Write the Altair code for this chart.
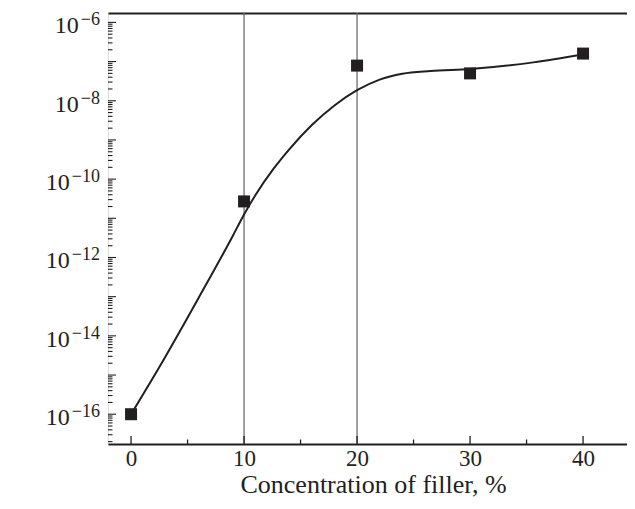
import altair as alt
import pandas as pd

# ---- data ----
conc = [0, 10, 20, 30, 40]                                   # filler concentration, %
cond = [1.0e-16, 2.7e-11, 7.9e-8, 5.0e-8, 1.6e-7]            # conductivity, S/cm

# fitted curve (x in %, log10 of conductivity)
curve_x = [0, 3, 6, 9, 10, 11, 12.6, 14, 16, 18, 20, 22, 24, 26.5, 30, 35.6, 40]
curve_log = [-16.0, -14.55, -13.02, -11.45, -10.9, -10.41, -9.74, -9.24, -8.62,
             -8.12, -7.73, -7.46, -7.31, -7.24, -7.19, -7.02, -6.82]

guide_x = [10, 20]                      # thin vertical guide lines
x_major = [0, 10, 20, 30, 40]
x_minor = [5, 15, 25, 35]
y_label_exps = [-6, -8, -10, -12, -14, -16]

# ---- layout ----
W, H = 519, 431
XDOM = [-2.04, -2.04 + W / 11.3]
YDOM = [10 ** -16.76, 10 ** -5.76]
INK = "#231f20"
SERIF = "'Liberation Serif', 'Times New Roman', Times, 'DejaVu Serif', serif"

xscale = alt.Scale(domain=XDOM, nice=False, zero=False)
yscale = alt.Scale(type="log", domain=YDOM, nice=False)

pts = pd.DataFrame({"x": conc, "y": cond})
curve = pd.DataFrame({"x": curve_x, "y": [10 ** v for v in curve_log]})
guides = pd.DataFrame({"x": guide_x})

y_major = [10.0 ** e for e in range(-17, -5) if YDOM[0] <= 10.0 ** e <= YDOM[1]]
y_minor = [m * 10.0 ** e for e in range(-18, -5) for m in range(2, 10)
           if YDOM[0] <= m * 10.0 ** e <= YDOM[1]]

ylab = pd.DataFrame({
    "v": [10.0 ** e for e in y_label_exps],
    "d": [str(abs(e)) for e in y_label_exps],
    "e": ["\u2212" + str(abs(e)) for e in y_label_exps],
})

# gray guide rules carry the top frame line
guide_layer = alt.Chart(guides).mark_rule(color="#6d6e71", strokeWidth=1.3).encode(
    x=alt.X("x:Q", scale=xscale,
            axis=alt.Axis(orient="top", labels=False, ticks=False, domain=True,
                          title=None, grid=False, domainWidth=2, domainColor=INK))
)

curve_layer = alt.Chart(curve).mark_line(
    color=INK, strokeWidth=2, interpolate="monotone"
).encode(
    x=alt.X("x:Q", scale=xscale,
            axis=alt.Axis(values=x_major, labels=True, ticks=True, tickSize=0,
                          tickWidth=0, domain=True, domainWidth=2, domainColor=INK,
                          grid=False, labelFont=SERIF, labelFontSize=23,
                          labelColor=INK, labelPadding=3, labelAngle=0,
                          title="Concentration of filler, %", titleFont=SERIF,
                          titleFontSize=26, titleFontWeight="normal",
                          titleColor=INK, titleBaseline="alphabetic",
                          titleAlign="center", titleX=265, titleY=48)),
    y=alt.Y("y:Q", scale=yscale,
            axis=alt.Axis(labels=False, ticks=False, domain=True, domainWidth=2,
                          domainColor=INK, grid=False,
                          title="Conductivity, S/cm", titleFont=SERIF,
                          titleFontSize=29, titleFontWeight="normal",
                          titleColor=INK, titleAngle=270, titleAlign="center",
                          titleBaseline="alphabetic", titleX=-80, titleY=179)),
)

point_layer = alt.Chart(pts).mark_point(
    shape="square", size=144, filled=True, color=INK, opacity=1
).encode(
    x=alt.X("x:Q", scale=xscale, axis=None),
    y=alt.Y("y:Q", scale=yscale, axis=None),
)

# inward ticks
def ytick_layer(vals, length):
    return alt.Chart(pd.DataFrame({"v": vals})).mark_rule(
        color=INK, strokeWidth=1.1
    ).encode(
        y=alt.Y("v:Q", scale=yscale, axis=None),
        x=alt.value(0), x2=alt.value(length),
    )

def xtick_layer(vals, length):
    return alt.Chart(pd.DataFrame({"v": vals})).mark_rule(
        color=INK, strokeWidth=1.3
    ).encode(
        x=alt.X("v:Q", scale=xscale, axis=None),
        y=alt.value(H), y2=alt.value(H - length),
    )

ten_layer = alt.Chart(ylab).transform_calculate(
    xpos="-8 - (10.2 + 9*length(datum.d)) - 2"
).mark_text(
    text="10", font=SERIF, fontSize=24, color=INK, align="right",
    baseline="alphabetic", dy=11
).encode(
    y=alt.Y("v:Q", scale=yscale, axis=None),
    x=alt.X("xpos:Q", scale=None),
)

exp_layer = alt.Chart(ylab).mark_text(
    font=SERIF, fontSize=18, color=INK, align="right",
    baseline="alphabetic", dy=3
).encode(
    y=alt.Y("v:Q", scale=yscale, axis=None),
    x=alt.value(-8),
    text="e:N",
)

chart = alt.layer(
    guide_layer, curve_layer, point_layer,
    ytick_layer(y_major, 8), ytick_layer(y_minor, 4.5),
    xtick_layer(x_major, 8), xtick_layer(x_minor, 4.5),
    ten_layer, exp_layer,
).resolve_axis(x="independent").properties(
    width=W, height=H,
    autosize=alt.AutoSizeParams(type="none"),
    padding={"left": 100, "top": 5, "right": 0, "bottom": 56},
).configure_view(stroke=None).configure(background="white")

chart.save("out.html", embed_options={"renderer": "svg", "actions": False})
